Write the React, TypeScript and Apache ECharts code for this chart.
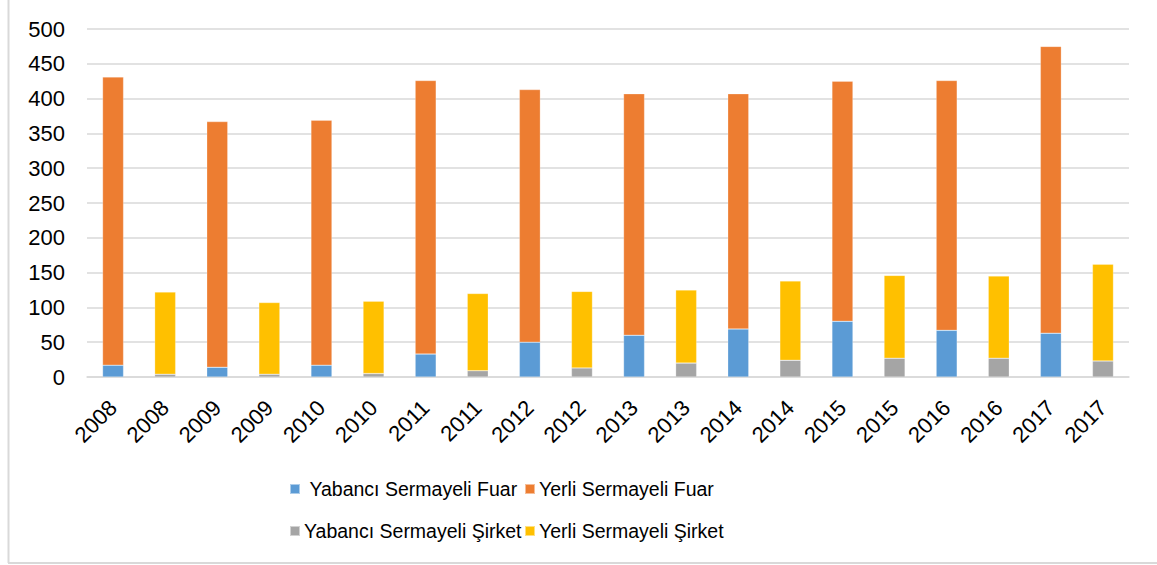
import React, { useEffect, useRef } from "react";
import * as echarts from "echarts";

const years = ["2008", "2009", "2010", "2011", "2012", "2013", "2014", "2015", "2016", "2017"];
const yabanciFuar = [17, 14, 17, 33, 50, 60, 69, 80, 67, 63];
const yerliFuar = [414, 353, 352, 393, 363, 347, 338, 345, 359, 412];
const yabanciSirket = [4, 4, 5, 9, 13, 20, 24, 27, 27, 23];
const yerliSirket = [118, 103, 104, 111, 110, 105, 114, 119, 118, 139];
const yTicks = { min: 0, max: 500, interval: 50 };

const seriesNames = [
  "Yabancı Sermayeli Fuar",
  "Yerli Sermayeli Fuar",
  "Yabancı Sermayeli Şirket",
  "Yerli Sermayeli Şirket",
];
const colors = ["#5B9BD5", "#ED7D31", "#A5A5A5", "#FFC000"];

const categories = years.flatMap((y) => [y, y]);
const fuarSlot = (arr: number[]) => arr.flatMap((v) => [v, null]);
const sirketSlot = (arr: number[]) => arr.flatMap((v) => [null, v]);

const FONT = "'Liberation Sans', Arial, sans-serif";

export default function App() {
  const ref = useRef<HTMLDivElement>(null);
  useEffect(() => {
    if (!ref.current) return;
    const chart = echarts.init(ref.current, undefined, { renderer: "svg" });
    const seriesData = [
      fuarSlot(yabanciFuar),
      fuarSlot(yerliFuar),
      sirketSlot(yabanciSirket),
      sirketSlot(yerliSirket),
    ];
    const legendPos = [
      { left: 289, top: 479, fmt: (n: string) => "\u00A0" + n },
      { left: 524, top: 479, fmt: (n: string) => n },
      { left: 289, top: 521, fmt: (n: string) => n },
      { left: 524, top: 521, fmt: (n: string) => n },
    ];
    chart.setOption({
      animation: false,
      backgroundColor: "#fff",
      textStyle: { fontFamily: FONT },
      grid: { left: 87, right: 28, top: 29, bottom: 188, containLabel: false },
      legend: legendPos.map((p, i) => ({
        data: [seriesNames[i]],
        left: p.left,
        top: p.top,
        icon: "rect",
        itemWidth: 10,
        itemHeight: 10,
        itemGap: 0,
        padding: 0,
        formatter: p.fmt,
        textStyle: { fontSize: 19.5, color: "#000", fontFamily: FONT, padding: [0, 0, 0, -1] },
      })),
      xAxis: {
        type: "category",
        data: categories,
        axisTick: { show: false },
        axisLine: { lineStyle: { color: "#D9D9D9", width: 1.5 } },
        axisLabel: {
          rotate: 45,
          interval: 0,
          fontSize: 22,
          color: "#000",
          fontFamily: FONT,
          margin: 27,
        },
      },
      yAxis: {
        type: "value",
        min: yTicks.min,
        max: yTicks.max,
        interval: yTicks.interval,
        axisLine: { show: false },
        axisTick: { show: false },
        splitLine: { lineStyle: { color: "#D9D9D9", width: 1.5 } },
        axisLabel: { fontSize: 22, color: "#000", fontFamily: FONT, margin: 22 },
      },
      series: seriesNames.map((name, i) => ({
        name,
        type: "bar",
        stack: "total",
        barWidth: 21,
        data: seriesData[i],
        itemStyle: { color: colors[i], borderColor: "rgba(255,255,255,0.5)", borderWidth: 0.5 },
      })),
      graphic: [
        {
          type: "line",
          shape: { x1: 8.5, y1: 0, x2: 8.5, y2: 563 },
          style: { stroke: "#D9D9D9", lineWidth: 2 },
        },
        {
          type: "line",
          shape: { x1: 8, y1: 563, x2: 1157, y2: 563 },
          style: { stroke: "#D9D9D9", lineWidth: 2 },
        },
      ],
    });
    return () => chart.dispose();
  }, []);
  return (
    <div
      ref={ref}
      style={{ position: "absolute", left: 0, top: 0, width: 1157, height: 565, background: "#fff" }}
    />
  );
}
